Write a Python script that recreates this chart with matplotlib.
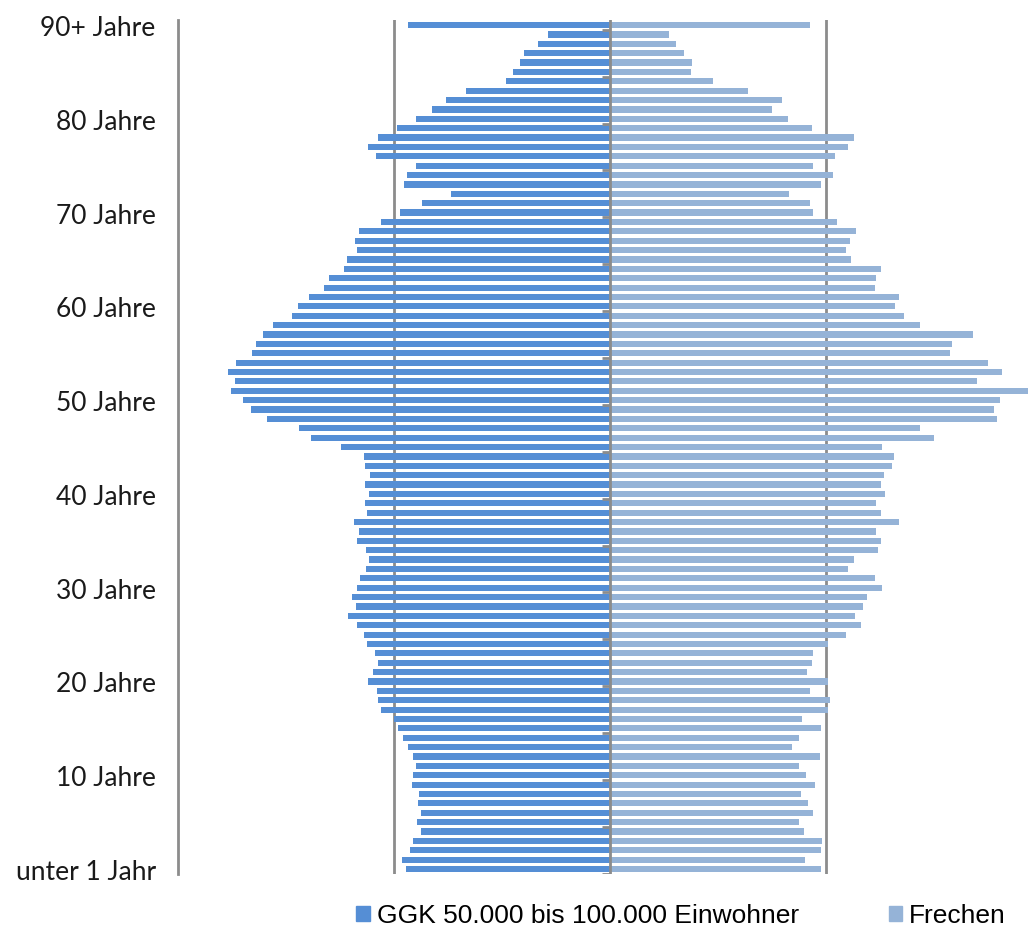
import numpy as np
import matplotlib
matplotlib.use("Agg")
import matplotlib.pyplot as plt
from matplotlib.patches import Patch

# Anteile je Altersjahr (unter 1 Jahr ... 90+ Jahre)
ages = list(range(91))
age_labels = ["unter 1 Jahr", "10 Jahre", "20 Jahre", "30 Jahre", "40 Jahre",
              "50 Jahre", "60 Jahre", "70 Jahre", "80 Jahre", "90+ Jahre"]
label_ages = [0, 10, 20, 30, 40, 50, 60, 70, 80, 90]

ggk = [0.942, 0.964, 0.927, 0.914, 0.874, 0.894, 0.874, 0.890, 0.885, 0.916,
       0.911, 0.900, 0.914, 0.934, 0.957, 0.980, 1.001, 1.062, 1.073, 1.079,
       1.118, 1.095, 1.075, 1.087, 1.127, 1.137, 1.169, 1.214, 1.177, 1.194,
       1.172, 1.158, 1.130, 1.116, 1.129, 1.172, 1.164, 1.185, 1.127, 1.134,
       1.115, 1.132, 1.113, 1.135, 1.138, 1.247, 1.382, 1.439, 1.586, 1.663,
       1.698, 1.754, 1.734, 1.768, 1.731, 1.658, 1.637, 1.608, 1.562, 1.473,
       1.442, 1.395, 1.322, 1.299, 1.231, 1.217, 1.172, 1.180, 1.160, 1.061,
       0.970, 0.871, 0.734, 0.954, 0.939, 0.899, 1.081, 1.119, 1.075, 0.988,
       0.897, 0.823, 0.757, 0.666, 0.482, 0.451, 0.417, 0.397, 0.334, 0.285,
       0.935]

frechen = [0.976, 0.904, 0.975, 0.984, 0.897, 0.873, 0.939, 0.917, 0.883, 0.950,
           0.910, 0.877, 0.973, 0.845, 0.873, 0.975, 0.887, 1.009, 1.019, 0.927,
           1.009, 0.911, 0.936, 0.942, 1.010, 1.095, 1.164, 1.135, 1.171, 1.190,
           1.259, 1.225, 1.100, 1.129, 1.243, 1.257, 1.234, 1.340, 1.254, 1.234,
           1.274, 1.257, 1.271, 1.305, 1.314, 1.259, 1.502, 1.435, 1.792, 1.778,
           1.805, 1.934, 1.701, 1.815, 1.752, 1.573, 1.583, 1.681, 1.435, 1.361,
           1.322, 1.340, 1.229, 1.234, 1.254, 1.118, 1.095, 1.111, 1.138, 1.052,
           0.939, 0.928, 0.828, 0.975, 1.035, 0.939, 1.042, 1.100, 1.132, 0.934,
           0.823, 0.750, 0.795, 0.637, 0.476, 0.377, 0.380, 0.342, 0.308, 0.275,
           0.927]

c_ggk = "#558ED5"
c_fre = "#95B3D7"
grey = "#8C8C8C"

fig = plt.figure(figsize=(10.31, 9.28), dpi=100)
ax = fig.add_axes([0.1726, 0.0574, 0.838, 0.9196])

# Gitterlinien hinter den Balken
for gx in (-1, 1):
    ax.axvline(gx, color=grey, lw=2, zorder=0)

ax.barh(ages, -np.array(ggk), height=0.66, color=c_ggk, zorder=2)
ax.barh(ages, frechen, height=0.66, color=c_fre, zorder=2)

# Mittelachse mit kleinen Strichen
ax.axvline(0, color=grey, lw=2, zorder=4)
ax.hlines(np.arange(-0.5, 91, 5), -0.037, 0, color=grey, lw=2, zorder=4)

ax.set_xlim(-2, 2)
ax.set_ylim(-0.5, 90.5)
ax.set_xticks([])
ax.set_yticks(label_ages)
ax.set_yticklabels(age_labels, fontsize=19, family=["Lato", "DejaVu Sans"], color="#1a1a1a")
ax.tick_params(axis="y", length=0, pad=16)
for s in ("top", "right", "bottom"):
    ax.spines[s].set_visible(False)
ax.spines["left"].set_color(grey)
ax.spines["left"].set_linewidth(2)

handles = [Patch(color=c_ggk, label="GGK 50.000 bis 100.000 Einwohner"),
           Patch(color=c_fre, label="Frechen")]
fig.legend(handles=handles, loc="center", bbox_to_anchor=(0.6605, 0.0125), ncol=2,
           frameon=False, handlelength=0.5, handleheight=0.5, handletextpad=0.27,
           columnspacing=3.4, borderpad=0,
           prop={"family": ["Liberation Sans", "DejaVu Sans"], "size": 19})

fig.savefig("out.png", dpi=100)
